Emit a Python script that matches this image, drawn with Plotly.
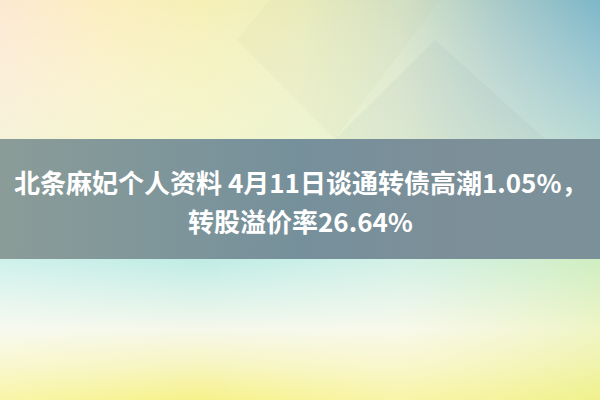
import plotly.graph_objects as go

# --- content ---------------------------------------------------------------
title_lines = ["北条麻妃个人资料 4月11日谈通转债高潮1.05%，", "转股溢价率26.64%"]

# background colour stops (left -> right, or top -> bottom)
top_stops = ["#fce9d2", "#fbeec0", "#f6f0b6", "#ecefbe", "#d6e3c6", "#a9cac9", "#7db7c8"]
top_fade = ["rgba(255,255,255,0)", "rgba(240,250,225,0.5)"]
band_stops = ["#8b9c98", "#7f969a", "#76909b", "#7c8f98", "#7b9199"]
bottom_stops = ["#bfece4", "#daf2ea", "#f5f8ea", "#f7f5c0", "#f6f28a"]
bottom_side = ["rgba(255,255,255,0.25)", "rgba(255,255,255,0)", "rgba(255,250,235,0.3)", "rgba(230,240,140,0.4)"]

W, H = 600, 400
BAND_TOP, BAND_BOT = 139, 259


def scale(stops, flip=False):
    # vertical gradients run bottom-up on screen, so flip them for top -> bottom stops
    stops = stops[::-1] if flip else stops
    n = len(stops) - 1
    return [[i / n, c] for i, c in enumerate(stops)]


def rect(x0, x1, y0, y1, stops, kind):
    return go.Scatter(
        x=[x0, x1, x1, x0, x0], y=[y0, y0, y1, y1, y0],
        mode="lines", line=dict(width=0), fill="toself",
        fillgradient=dict(type=kind, colorscale=scale(stops, kind == "vertical")),
        hoverinfo="skip", showlegend=False,
    )


def poly(xs, ys, color):
    return go.Scatter(
        x=xs, y=ys, mode="lines", line=dict(width=0), fill="toself",
        fillcolor=color, hoverinfo="skip", showlegend=False,
    )


fig = go.Figure()
fig.add_trace(rect(0, W, 0, BAND_TOP, top_stops, "horizontal"))
fig.add_trace(rect(0, W, 0, BAND_TOP, top_fade, "vertical"))
# faint diamond facets in the top area
fig.add_trace(poly([237, 270, 440, 335, 237], [40, 0, 0, 139, 40], "rgba(190,180,140,0.07)"))
fig.add_trace(poly([335, 435, 545, 335], [139, 40, 139, 139], "rgba(120,140,150,0.07)"))
fig.add_trace(rect(0, W, BAND_BOT, H, bottom_stops, "vertical"))
fig.add_trace(rect(0, W, BAND_BOT, H, bottom_side, "horizontal"))
fig.add_trace(rect(0, W, BAND_TOP, BAND_BOT, band_stops, "horizontal"))

for line, yc in zip(title_lines, [181, 220]):
    fig.add_annotation(
        x=W / 2, y=yc, text=line, showarrow=False,
        font=dict(family="Noto Sans CJK SC", size=26, color="white", weight="bold"),
        xanchor="center", yanchor="middle",
    )

fig.update_layout(
    width=W, height=H, margin=dict(l=0, r=0, t=0, b=0),
    paper_bgcolor="white", plot_bgcolor="white",
    xaxis=dict(range=[0, W], visible=False, fixedrange=True),
    yaxis=dict(range=[H, 0], visible=False, fixedrange=True),
)
fig.write_html(
    "out.html",
    config={"displayModeBar": False},
    post_script="document.body.style.margin='0';",
)
